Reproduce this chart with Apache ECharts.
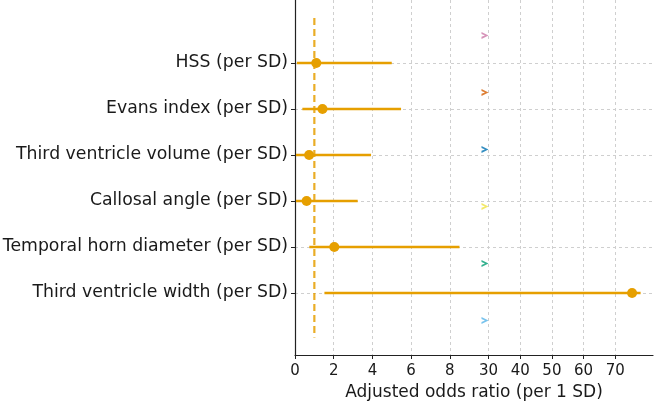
<!DOCTYPE html>
<html>
<head>
<meta charset="utf-8">
<script src="https://cdn.jsdelivr.net/npm/echarts@6/dist/echarts.min.js"></script>
<style>
  html, body { margin: 0; padding: 0; background: #fff; }
  #chart { width: 662px; height: 403px; }
</style>
</head>
<body>
<div id="chart"></div>
<script>
// rows, top to bottom
const labels = [
  'HSS (per SD)',
  'Evans index (per SD)',
  'Third ventricle volume (per SD)',
  'Callosal angle (per SD)',
  'Temporal horn diameter (per SD)',
  'Third ventricle width (per SD)'
];
const oddsRatio = [1.1, 1.42, 0.73, 0.6, 2.03, 75.3];
const ciLow = [0.1, 0.38, 0.05, 0.05, 0.74, 1.52];
const ciHigh = [5.0, 5.48, 3.93, 3.24, 13.5, 78];

const xTicks = [0, 2, 4, 6, 8, 30, 40, 50, 60, 70];
const refValue = 1;

// the small coloured arrow marks near x = 30
const markX = 28;
const markY = [-0.6, 0.64, 1.88, 3.12, 4.36, 5.6];
const markColors = ['#CC79A7', '#D55E00', '#0072B2', '#F0E442', '#009E73', '#56B4E9'];

// broken x axis: 0-8 linear, 8-30 squeezed, 30+ compressed
function fwd(v) {
  if (v <= 8) return v;
  if (v <= 30) return 8 + (v - 8) / 22 * 2;
  return 10 + (v - 30) / 10 * 1.6375;
}

const orange = '#E69F00';
const gridColor = '#cfcfcf';
const font = 'DejaVu Sans';

const chart = echarts.init(document.getElementById('chart'));

const ciData = labels.map((name, i) => [fwd(ciLow[i]), fwd(ciHigh[i]), fwd(oddsRatio[i]), i]);

chart.setOption({
  animation: false,
  grid: { left: 295, right: 9, top: 0, bottom: 48, containLabel: false, outerBoundsMode: 'none' },
  xAxis: {
    type: 'value',
    min: 0,
    max: 18.5,
    name: 'Adjusted odds ratio (per 1 SD)',
    nameLocation: 'middle',
    nameGap: 29,
    nameTextStyle: { fontFamily: font, fontSize: 17, color: '#1a1a1a' },
    axisLine: { onZero: false, lineStyle: { color: '#222', width: 1.2 } },
    axisTick: { show: true, length: 4, customValues: xTicks.map(fwd), lineStyle: { color: '#222' } },
    axisLabel: {
      customValues: xTicks.map(fwd),
      margin: 9,
      fontFamily: font,
      fontSize: 15,
      color: '#1a1a1a',
      formatter: (v) => {
        const i = xTicks.map(fwd).findIndex(t => Math.abs(t - v) < 1e-6);
        return i >= 0 ? String(xTicks[i]) : '';
      }
    },
    splitLine: { show: true, lineStyle: { color: gridColor, type: [3, 3], width: 1 } }
  },
  yAxis: {
    type: 'value',
    inverse: true,
    min: -1.37,
    max: 6.35,
    axisLine: { show: true, onZero: false, lineStyle: { color: '#222', width: 1.2 } },
    axisTick: { show: true, length: 4, customValues: [0, 1, 2, 3, 4, 5], lineStyle: { color: '#222' } },
    axisLabel: {
      customValues: [0, 1, 2, 3, 4, 5],
      margin: 7,
      fontFamily: font,
      fontSize: 17.3,
      color: '#1a1a1a',
      formatter: (v) => labels[Math.round(v)] || ''
    },
    splitLine: { show: true, lineStyle: { color: gridColor, type: [3, 3], width: 1 } }
  },
  series: [
    {
      type: 'line',
      data: [[fwd(refValue), -0.98], [fwd(refValue), 5.97]],
      symbol: 'none',
      lineStyle: { color: orange, width: 2.2, type: [7, 4], opacity: 0.85 },
      z: 3
    },
    {
      type: 'custom',
      data: ciData,
      z: 4,
      renderItem: (params, api) => {
        const a = api.coord([api.value(0), api.value(3)]);
        const b = api.coord([api.value(1), api.value(3)]);
        const c = api.coord([api.value(2), api.value(3)]);
        return {
          type: 'group',
          children: [
            { type: 'line', shape: { x1: a[0], y1: a[1], x2: b[0], y2: b[1] }, style: { stroke: orange, lineWidth: 2.5 } },
            { type: 'circle', shape: { cx: c[0], cy: c[1], r: 5 }, style: { fill: orange } }
          ]
        };
      }
    },
    {
      type: 'scatter',
      data: markY.map((y, i) => ({ value: [fwd(markX), y], itemStyle: { color: markColors[i] } })),
      symbol: 'path://M0,0 L10,5 L0,10 L0,7 L5,5 L0,3 Z',
      symbolSize: [7, 7],
      z: 5
    }
  ]
});
</script>
</body>
</html>
